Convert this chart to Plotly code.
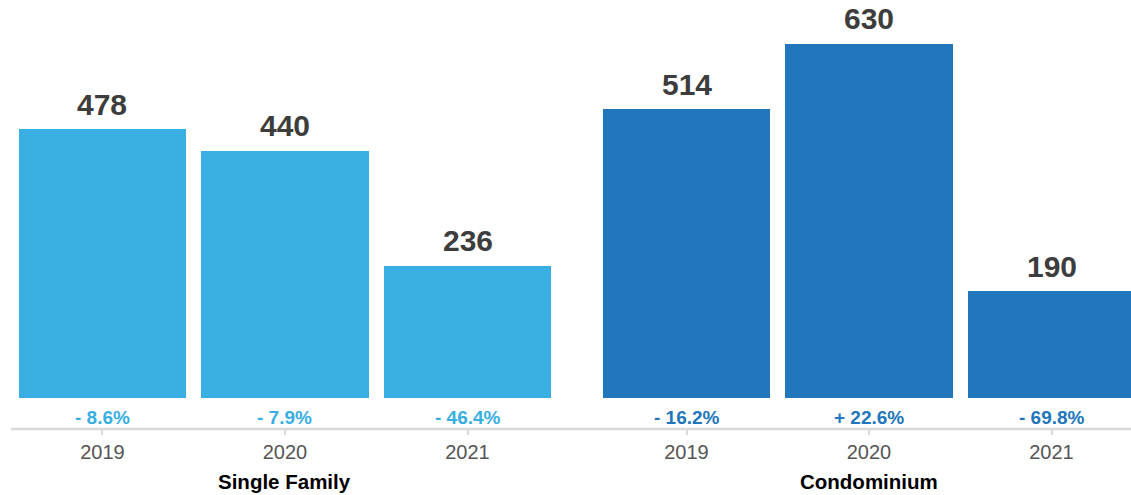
import plotly.graph_objects as go

# Data
years = ["2019", "2020", "2021"]
groups = ["Single Family", "Condominium"]
single_family = [478, 440, 236]
condominium = [514, 630, 190]
single_family_change = [-8.6, -7.9, -46.4]
condominium_change = [-16.2, 22.6, -69.8]

colors = ["#38AEE2", "#2176BC"]
FONT = "Liberation Sans, Arial, Helvetica, sans-serif"

group_offset = 3.2  # x position of the first bar in the second group
series = [single_family, condominium]
changes = [single_family_change, condominium_change]


def fmt_change(v):
    sign = "+" if v > 0 else "-"
    return f"{sign} {abs(v):.1f}%"


fig = go.Figure()
annotations = []
tickvals, ticktext = [], []

for g, (name, vals, chg, col) in enumerate(zip(groups, series, changes, colors)):
    xs = [g * group_offset + i for i in range(len(years))]
    fig.add_trace(go.Bar(
        x=xs, y=vals, name=name, width=0.92,
        marker=dict(color=col, line=dict(width=0)),
        hoverinfo="skip", showlegend=False,
    ))
    tickvals += xs
    ticktext += years
    for x, v, c in zip(xs, vals, chg):
        # value above each bar
        annotations.append(dict(
            x=x, y=v, xref="x", yref="y", text=f"<b>{v}</b>",
            showarrow=False, yanchor="middle", yshift=25,
            font=dict(family=FONT, size=30, color="#3d3d3d"),
        ))
        # year-over-year change under each bar
        annotations.append(dict(
            x=x, y=0.0263, xref="x", yref="paper", text=f"<b>{fmt_change(c)}</b>",
            showarrow=False, yanchor="middle",
            font=dict(family=FONT, size=19, color=col),
        ))
    # group title
    annotations.append(dict(
        x=xs[1], y=-0.1224, xref="x", yref="paper", text=f"<b>{name}</b>",
        showarrow=False, yanchor="middle",
        font=dict(family=FONT, size=20.5, color="#000000"),
    ))

fig.update_layout(
    width=1131, height=495,
    margin=dict(l=0, r=0, t=0, b=66),
    paper_bgcolor="white", plot_bgcolor="white",
    bargap=0,
    annotations=annotations,
    shapes=[dict(
        type="line", xref="paper", yref="paper",
        x0=11 / 1131, x1=1, y0=0, y1=0,
        line=dict(color="#d9d9d9", width=2.5),
    )],
    xaxis=dict(
        range=[-0.5616, 5.6356], tickvals=tickvals, ticktext=ticktext,
        showgrid=False, zeroline=False, showline=False,
        ticks="outside", ticklen=5, tickwidth=2, tickcolor="#d9d9d9",
        tickfont=dict(family=FONT, size=20, color="#555555"),
        fixedrange=True,
    ),
    yaxis=dict(
        range=[-54.6, 708.2], visible=False, showgrid=False,
        zeroline=False, fixedrange=True,
    ),
    font=dict(family=FONT),
)

fig.write_html("out.html", config={"displayModeBar": False})
